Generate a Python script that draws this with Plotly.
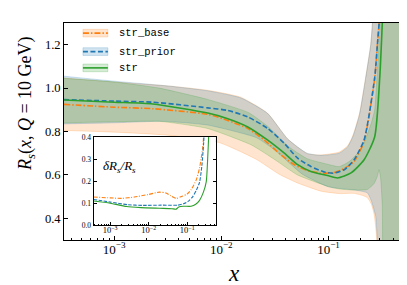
import plotly.graph_objects as go

# ---------------- data (log10 x positions and values) -------------
# central values
base_lx = [-3.47, -3.0, -2.64, -2.126, -1.94, -1.753, -1.598, -1.443, -1.319, -1.195, -1.08, -0.95, -0.85, -0.761, -0.668, -0.569, -0.544, -0.528, -0.51]
base_y = [0.925, 0.912, 0.905, 0.879, 0.851, 0.814, 0.76, 0.692, 0.647, 0.62, 0.609, 0.61, 0.63, 0.662, 0.755, 1.045, 1.2, 1.3, 1.5]

prior_lx = [-3.47, -3.0, -2.64, -2.126, -1.94, -1.753, -1.567, -1.412, -1.288, -1.165, -1.03, -0.95, -0.85, -0.761, -0.668, -0.569, -0.544, -0.528, -0.51]
prior_y = [0.947, 0.94, 0.935, 0.909, 0.897, 0.867, 0.814, 0.745, 0.677, 0.639, 0.612, 0.608, 0.625, 0.670, 0.761, 1.048, 1.2, 1.3, 1.5]

str_lx = [-3.47, -3.0, -2.64, -2.126, -1.94, -1.753, -1.567, -1.412, -1.288, -1.165, -1.009, -0.916, -0.79, -0.668, -0.569, -0.522, -0.498, -0.48]
str_y = [0.945, 0.935, 0.927, 0.885, 0.859, 0.821, 0.76, 0.70, 0.647, 0.616, 0.597, 0.586, 0.609, 0.670, 0.776, 1.048, 1.3, 1.5]

# uncertainty bands: upper edges
base_up_lx = [-3.47, -3.0, -2.5, -2.13, -1.82, -1.57, -1.38, -1.2, -1.07, -0.9, -0.82, -0.77, -0.71, -0.653, -0.606, -0.59, -0.57, -0.3]
base_up_y = [1.047, 1.028, 1.01, 0.99, 0.958, 0.885, 0.765, 0.698, 0.692, 0.705, 0.735, 0.785, 0.885, 1.05, 1.2, 1.3, 1.45, 1.45]
prior_up_lx = [-3.47, -3.0, -2.5, -2.13, -1.82, -1.57, -1.38, -1.2, -1.07, -0.9, -0.82, -0.77, -0.71, -0.653, -0.606, -0.59, -0.57, -0.3]
prior_up_y = [1.055, 1.032, 1.01, 0.988, 0.955, 0.884, 0.765, 0.70, 0.69, 0.70, 0.73, 0.78, 0.88, 1.048, 1.2, 1.3, 1.45, 1.45]
str_up_lx = [-3.47, -3.0, -2.58, -2.13, -1.75, -1.57, -1.38, -1.2, -1.0, -0.9, -0.8, -0.7, -0.668, -0.6, -0.569, -0.54, -0.522, -0.5, -0.3]
str_up_y = [1.045, 1.028, 1.0, 0.948, 0.888, 0.825, 0.733, 0.675, 0.648, 0.638, 0.664, 0.716, 0.747, 0.84, 0.9, 1.12, 1.26, 1.45, 1.45]

# uncertainty bands: lower edges
base_lo_lx = [-3.47, -3.0, -2.5, -2.02, -1.675, -1.46, -1.29, -1.07, -0.9, -0.766, -0.68, -0.637, -0.6, -0.575, -0.56, -0.55, -0.54, -0.3]
base_lo_y = [0.805, 0.797, 0.783, 0.749, 0.672, 0.603, 0.563, 0.525, 0.514, 0.515, 0.505, 0.495, 0.465, 0.42, 0.36, 0.3, 0.2, 0.2]
prior_lo_lx = [-3.47, -3.0, -2.54, -2.13, -1.675, -1.5, -1.24, -1.0, -0.85, -0.75, -0.637, -0.6, -0.56, -0.544, -0.53, -0.3]
prior_lo_y = [0.835, 0.84, 0.847, 0.83, 0.772, 0.714, 0.602, 0.545, 0.535, 0.53, 0.517, 0.48, 0.41, 0.3, 0.2, 0.2]
str_lo_lx = [-3.47, -3.0, -2.58, -2.13, -1.72, -1.5, -1.29, -1.0, -0.9, -0.75, -0.637, -0.575, -0.544, -0.528, -0.513, -0.498, -0.495, -0.49, -0.3]
str_lo_y = [0.84, 0.845, 0.847, 0.814, 0.738, 0.67, 0.60, 0.546, 0.535, 0.53, 0.533, 0.56, 0.594, 0.624, 0.58, 0.458, 0.3, 0.2, 0.2]

# inset: relative uncertainty
ins_base_lx = [-3.43, -3.0, -2.7, -2.37, -2.02, -1.72, -1.55, -1.42, -1.29, -1.15, -1.0, -0.896, -0.766, -0.68, -0.594, -0.56]
ins_base_y = [0.128, 0.124, 0.122, 0.128, 0.139, 0.15, 0.146, 0.133, 0.122, 0.13, 0.142, 0.162, 0.206, 0.26, 0.358, 0.45]
ins_prior_lx = [-3.43, -3.0, -2.54, -2.15, -1.675, -1.24, -1.1, -0.98, -0.855, -0.76, -0.68, -0.62, -0.577, -0.55]
ins_prior_y = [0.117, 0.105, 0.093, 0.09, 0.091, 0.091, 0.097, 0.108, 0.13, 0.16, 0.195, 0.27, 0.365, 0.45]
ins_str_lx = [-3.43, -3.0, -2.58, -2.2, -1.72, -1.4, -1.29, -1.22, -1.1, -0.9, -0.78, -0.68, -0.58, -0.506, -0.47, -0.44, -0.42]
ins_str_y = [0.11, 0.1, 0.085, 0.08, 0.077, 0.075, 0.073, 0.083, 0.086, 0.086, 0.095, 0.113, 0.15, 0.198, 0.3, 0.42, 0.5]

labels = ["str_base", "str_prior", "str"]
colors = ["#ff7f0e", "#1f77b4", "#2ca02c"]
fills = ["rgba(255,127,14,0.2)", "rgba(31,119,180,0.2)", "rgba(44,160,44,0.2)"]
edges = ["rgba(255,127,14,0.3)", "rgba(31,119,180,0.3)", "rgba(44,160,44,0.3)"]
dashes = ["6px,2px,1.5px,2px", "5px,2.5px", "solid"]
ins_dashes = ["4px,1.5px,1px,1.5px", "3.5px,1.5px", "solid"]


def X(lx):
    return [10 ** v for v in lx]


central = [(base_lx, base_y), (prior_lx, prior_y), (str_lx, str_y)]
uppers = [(base_up_lx, base_up_y), (prior_up_lx, prior_up_y), (str_up_lx, str_up_y)]
lowers = [(base_lo_lx, base_lo_y), (prior_lo_lx, prior_lo_y), (str_lo_lx, str_lo_y)]
inset = [(ins_base_lx, ins_base_y), (ins_prior_lx, ins_prior_y), (ins_str_lx, ins_str_y)]

fig = go.Figure()

for i in range(3):
    ux, uy = uppers[i]
    lx_, ly = lowers[i]
    px = X(ux) + X(lx_)[::-1]
    py = list(uy) + list(ly)[::-1]
    fig.add_trace(go.Scatter(x=px, y=py, mode="lines", fill="toself", fillcolor=fills[i],
                             line=dict(color=edges[i], width=0.7, shape="spline", smoothing=0.5),
                             showlegend=False, hoverinfo="skip", xaxis="x", yaxis="y"))

for i in range(3):
    cx, cy = central[i]
    fig.add_trace(go.Scatter(x=X(cx), y=cy, mode="lines", name=labels[i],
                             line=dict(color=colors[i], width=1.6, dash=dashes[i], shape="spline", smoothing=0.6),
                             showlegend=False, xaxis="x", yaxis="y"))

for i in range(3):
    cx, cy = inset[i]
    fig.add_trace(go.Scatter(x=X(cx), y=cy, mode="lines",
                             line=dict(color=colors[i], width=1.1, dash=ins_dashes[i], shape="spline", smoothing=0.6),
                             showlegend=False, xaxis="x2", yaxis="y2"))

# ---------------- layout ----------------
L, R, T, B = 56, 11, 12, 53
W, H = 407, 285
pw, ph = W - L - R, H - T - B

def px2x(p):
    return (p - L) / pw

def px2y(p):
    return (H - B - p) / ph

serif = "Liberation Serif"
minor_vals = [k * 10 ** e for e in (-4, -3, -2, -1) for k in range(2, 10)]
dec_vals = [1e-3, 1e-2, 1e-1]
dec_text = ["10<sup>−3</sup>", "10<sup>−2</sup>", "10<sup>−1</sup>"]

fig.update_layout(
    width=W, height=H,
    margin=dict(l=L, r=R, t=T, b=B),
    paper_bgcolor="white", plot_bgcolor="white",
    showlegend=False,
    font=dict(family=serif, color="black"),
    xaxis=dict(type="log", range=[-3.468, -0.305], domain=[0, 1],
               tickvals=dec_vals, ticktext=dec_text, ticks="inside", ticklen=4, tickwidth=0.8,
               tickcolor="black", minor=dict(tickvals=minor_vals, ticks="inside", ticklen=2, tickwidth=0.6, tickcolor="black"),
               showline=True, linecolor="black", linewidth=1, mirror=True, ticklabelstandoff=-3,
               showgrid=False, zeroline=False, tickfont=dict(size=13, family=serif)),
    yaxis=dict(range=[0.3, 1.3], domain=[0, 1],
               tickvals=[0.4, 0.6, 0.8, 1.0, 1.2], ticktext=["0.4", "0.6", "0.8", "1.0", "1.2"],
               ticks="inside", ticklen=4, tickwidth=0.8, tickcolor="black",
               showline=True, linecolor="black", linewidth=1, mirror="ticks",
               showgrid=False, zeroline=False, tickfont=dict(size=12.5, family=serif)),
    xaxis2=dict(type="log", range=[-3.43, -0.265], domain=[px2x(85.7), px2x(208)], anchor="y2",
                tickvals=dec_vals, ticktext=dec_text, ticks="inside", ticklen=3, tickwidth=0.6,
                tickcolor="black", minor=dict(tickvals=minor_vals, ticks="inside", ticklen=1.5, tickwidth=0.5, tickcolor="black"),
                showline=True, linecolor="black", linewidth=1, mirror=True, ticklabelstandoff=-3,
                showgrid=False, zeroline=False, tickfont=dict(size=8.5, family=serif)),
    yaxis2=dict(range=[0, 0.4], domain=[px2y(217), px2y(127.7)], anchor="x2",
                tickvals=[0, 0.1, 0.2, 0.3, 0.4], ticktext=["0.0", "0.1", "0.2", "0.3", "0.4"],
                ticks="inside", ticklen=3, tickwidth=0.6, tickcolor="black",
                showline=True, linecolor="black", linewidth=1, mirror="ticks",
                showgrid=False, zeroline=False, tickfont=dict(size=7.5, family=serif)),
)

annotations = [
    dict(text="<i>δR</i><sub><i>s</i></sub><i>/R</i><sub><i>s</i></sub>", x=px2x(93), y=px2y(157),
         xref="paper", yref="paper", xanchor="left", yanchor="middle", showarrow=False,
         font=dict(size=13, family=serif, color="black")),
    dict(text="<i>R</i><sub><i>s</i></sub>(<i>x</i>, <i>Q</i> = 10 GeV)", x=px2x(19), y=px2y(94),
         xref="paper", yref="paper", xanchor="center", yanchor="middle", showarrow=False, textangle=-90,
         font=dict(size=18, family=serif, color="black")),
    dict(text="<i>x</i>", x=px2x(227), y=px2y(266),
         xref="paper", yref="paper", xanchor="center", yanchor="middle", showarrow=False,
         font=dict(size=23, family=serif, color="black")),
]

shapes = []
leg_y = [22.3, 41.0, 57.5]
for i in range(3):
    yc = leg_y[i]
    shapes.append(dict(type="rect", xref="paper", yref="paper",
                       x0=px2x(75), x1=px2x(100), y0=px2y(yc + 3.9), y1=px2y(yc - 3.9),
                       fillcolor=fills[i], line=dict(color=edges[i], width=0.7), layer="above"))
    shapes.append(dict(type="line", xref="paper", yref="paper",
                       x0=px2x(75), x1=px2x(100), y0=px2y(yc), y1=px2y(yc),
                       line=dict(color=colors[i], width=1.6, dash=dashes[i]), layer="above"))
    annotations.append(dict(text=labels[i], x=px2x(109), y=px2y(yc), xref="paper", yref="paper",
                            xanchor="left", yanchor="middle", showarrow=False,
                            font=dict(size=10.5, family="Liberation Mono", color="black")))

fig.update_layout(shapes=shapes, annotations=annotations)

fig.write_html("out.html")
